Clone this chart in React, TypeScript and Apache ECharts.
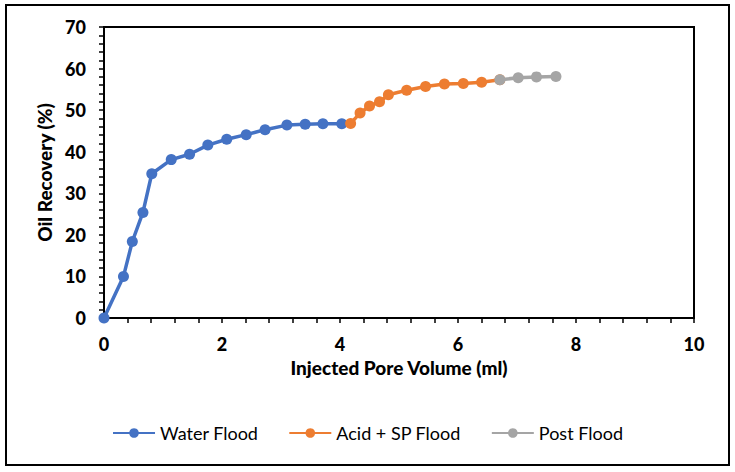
import React, { useEffect, useRef } from "react";
import * as echarts from "echarts";

const waterFloodX = [0, 0.33, 0.48, 0.66, 0.81, 1.14, 1.45, 1.76, 2.08, 2.41, 2.73, 3.1, 3.41, 3.71, 4.03];
const waterFloodY = [0, 10, 18.4, 25.4, 34.7, 38.1, 39.4, 41.6, 43.0, 44.1, 45.3, 46.4, 46.6, 46.7, 46.7];

const acidSpX = [4.18, 4.34, 4.5, 4.67, 4.82, 5.13, 5.45, 5.77, 6.09, 6.4, 6.71];
const acidSpY = [46.8, 49.3, 51.0, 52.0, 53.7, 54.8, 55.7, 56.3, 56.4, 56.7, 57.3];

const postFloodX = [6.71, 7.02, 7.33, 7.66];
const postFloodY = [57.3, 57.8, 58.0, 58.1];

const seriesNames = ["Water Flood", "Acid + SP Flood", "Post Flood"];
const seriesColors = ["#4472C4", "#ED7D31", "#A5A5A5"];

const FONT = "Lato, 'Open Sans', sans-serif";

function pairs(xs: number[], ys: number[]) {
  return xs.map((x, i) => [x, ys[i]]);
}

export default function App() {
  const ref = useRef<HTMLDivElement>(null);
  useEffect(() => {
    document.body.style.margin = "0";
    if (!ref.current) return;
    const chart = echarts.init(ref.current, null, { renderer: "svg" });
    const datasets = [
      pairs(waterFloodX, waterFloodY),
      pairs(acidSpX, acidSpY),
      pairs(postFloodX, postFloodY),
    ];
    chart.setOption({
      animation: false,
      backgroundColor: "#ffffff",
      textStyle: { fontFamily: FONT },
      graphic: [
        {
          type: "rect",
          shape: { x: 6, y: 5, width: 723, height: 460 },
          style: { fill: "none", stroke: "#000", lineWidth: 2 },
          silent: true,
        },
      ],
      grid: {
        left: 104,
        top: 27,
        width: 590,
        height: 291,
        show: true,
        borderColor: "#000",
        borderWidth: 2,
        backgroundColor: "transparent",
      },
      legend: {
        top: 419,
        left: "center",
        itemGap: 30,
        itemWidth: 42,
        itemHeight: 12,
        textStyle: { fontFamily: FONT, fontSize: 18, color: "#000" },
        data: seriesNames,
      },
      xAxis: {
        type: "value",
        min: 0,
        max: 10,
        interval: 2,
        name: "Injected Pore Volume (ml)",
        nameLocation: "middle",
        nameGap: 31,
        nameTextStyle: { fontFamily: FONT, fontSize: 19, fontWeight: 900, color: "#000" },
        axisLine: { show: true, lineStyle: { color: "#000", width: 2 } },
        axisTick: { show: true, length: 5, lineStyle: { color: "#000", width: 1.5 } },
        minorTick: { show: true, splitNumber: 5, length: 5, lineStyle: { color: "#000", width: 1.5 } },
        splitLine: { show: false },
        axisLabel: { margin: 17, fontFamily: FONT, fontSize: 18, fontWeight: 900, color: "#000" },
      },
      yAxis: {
        type: "value",
        min: 0,
        max: 70,
        interval: 10,
        name: "Oil Recovery (%)",
        nameLocation: "middle",
        nameGap: 48,
        nameRotate: 90,
        nameTextStyle: { fontFamily: FONT, fontSize: 19, fontWeight: 900, color: "#000" },
        axisLine: { show: true, lineStyle: { color: "#000", width: 2 } },
        axisTick: { show: true, length: 5, lineStyle: { color: "#000", width: 1.5 } },
        minorTick: { show: true, splitNumber: 5, length: 5, lineStyle: { color: "#000", width: 1.5 } },
        splitLine: { show: false },
        axisLabel: { margin: 18, fontFamily: FONT, fontSize: 18, fontWeight: 900, color: "#000" },
      },
      series: seriesNames.map((name, i) => ({
        name,
        type: "line",
        data: datasets[i],
        symbol: "circle",
        symbolSize: 11,
        showSymbol: true,
        color: seriesColors[i],
        lineStyle: { color: seriesColors[i], width: 3.5 },
        itemStyle: { color: seriesColors[i] },
        z: 2 + i,
      })),
    });
    return () => chart.dispose();
  }, []);
  return <div ref={ref} style={{ width: 735, height: 472 }} />;
}
